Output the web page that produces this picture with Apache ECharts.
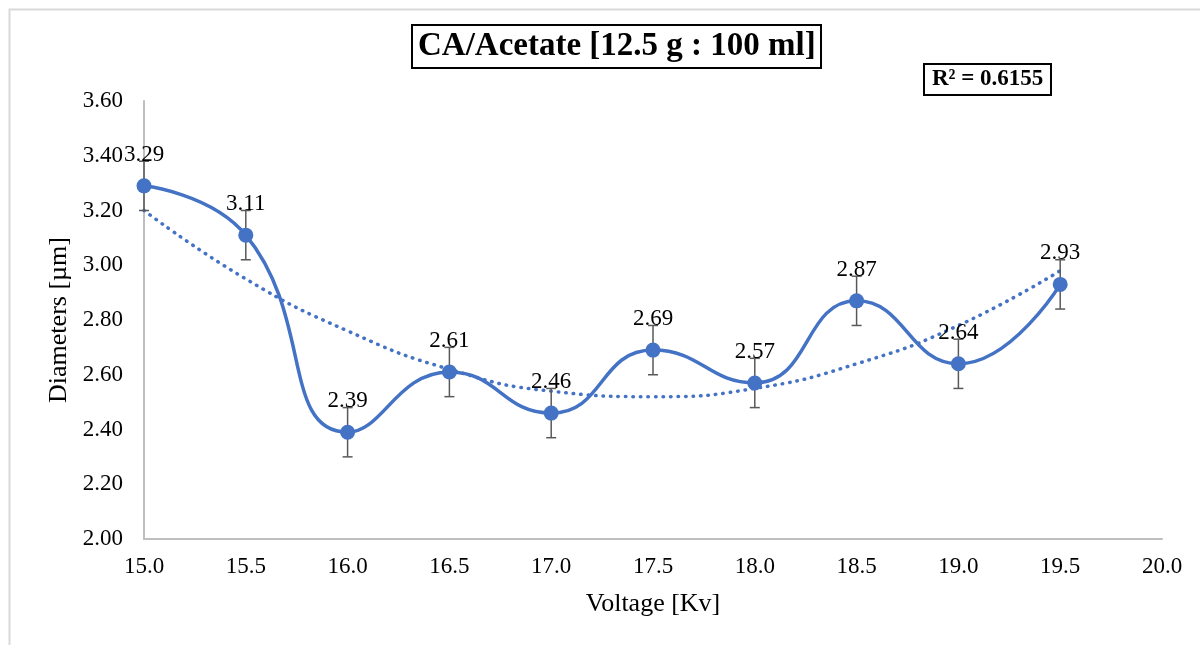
<!DOCTYPE html>
<html>
<head>
<meta charset="utf-8">
<script src="https://cdn.jsdelivr.net/npm/echarts@6/dist/echarts.min.js"></script>
<style>
html,body{margin:0;padding:0;background:#fff;}
#chart{width:1200px;height:645px;}
</style>
</head>
<body>
<div id="chart"></div>
<script>
// Data
var voltages = [15.0, 15.5, 16.0, 16.5, 17.0, 17.5, 18.0, 18.5, 19.0, 19.5];
var diameters = [3.29, 3.11, 2.39, 2.61, 2.46, 2.69, 2.57, 2.87, 2.64, 2.93];
var errors = [0.09, 0.09, 0.09, 0.09, 0.09, 0.09, 0.09, 0.09, 0.09, 0.09];
// Polynomial (order 2) trendline values
var trendValues = [3.20, 2.95, 2.76, 2.62, 2.54, 2.52, 2.55, 2.64, 2.78, 2.98];
var titleText = 'CA/Acetate [12.5 g : 100 ml]';
var r2Text = 'R² = 0.6155';
var xName = 'Voltage [Kv]';
var yName = 'Diameters [µm]';

var FONT = '"Liberation Serif", "Times New Roman", serif';
var BLUE = '#4472C4';

var mainData = voltages.map(function (v, i) { return [v, diameters[i]]; });
var trendData = voltages.map(function (v, i) { return [v, trendValues[i]]; });
var errData = voltages.map(function (v, i) { return [v, diameters[i] - errors[i], diameters[i] + errors[i]]; });

var chart = echarts.init(document.getElementById('chart'));
chart.setOption({
  backgroundColor: '#fff',
  animation: false,
  title: [{
    text: titleText,
    left: 412, top: 25,
    padding: [5, 6, 5, 6],
    borderColor: '#000', borderWidth: 2,
    textStyle: { fontFamily: FONT, fontSize: 33, fontWeight: 'bold', color: '#000' }
  }, {
    text: r2Text,
    left: 924, top: 64,
    padding: [4, 8, 4, 8],
    borderColor: '#000', borderWidth: 2,
    textStyle: { fontFamily: FONT, fontSize: 23, fontWeight: 'bold', color: '#000' }
  }],
  graphic: [{
    type: 'rect',
    shape: { x: 9.5, y: 9.5, width: 1250, height: 700 },
    style: { fill: null, stroke: '#d9d9d9', lineWidth: 2 },
    silent: true
  }],
  grid: { left: 144, right: 38, top: 101, bottom: 106 },
  xAxis: {
    type: 'value', min: 15, max: 20, interval: 0.5,
    name: xName, nameLocation: 'middle', nameGap: 52,
    nameTextStyle: { fontFamily: FONT, fontSize: 26, color: '#000' },
    axisLine: { show: true, onZero: false, lineStyle: { color: '#bfbfbf', width: 2 } },
    axisTick: { show: false },
    splitLine: { show: false },
    axisLabel: { fontFamily: FONT, fontSize: 23, color: '#000', margin: 16,
      formatter: function (v) { return v.toFixed(1); } }
  },
  yAxis: {
    type: 'value', min: 2, max: 3.6, interval: 0.2,
    name: yName, nameLocation: 'middle', nameGap: 72,
    nameTextStyle: { fontFamily: FONT, fontSize: 26, color: '#000' },
    axisLine: { show: true, lineStyle: { color: '#bfbfbf', width: 2 } },
    axisTick: { show: false },
    splitLine: { show: false },
    axisLabel: { fontFamily: FONT, fontSize: 23, color: '#000', margin: 21,
      formatter: function (v) { return v.toFixed(2); } }
  },
  series: [{
    type: 'line',
    data: trendData,
    smooth: true,
    symbol: 'none',
    lineStyle: { color: BLUE, width: 3.5, type: [0.5, 7], cap: 'round' },
    z: 2
  }, {
    type: 'custom',
    data: errData,
    renderItem: function (params, api) {
      var x = api.value(0);
      var lo = api.coord([x, api.value(1)]);
      var hi = api.coord([x, api.value(2)]);
      var hw = 5;
      var st = { stroke: '#595959', lineWidth: 1.5 };
      return {
        type: 'group',
        children: [
          { type: 'line', shape: { x1: lo[0], y1: lo[1], x2: hi[0], y2: hi[1] }, style: st },
          { type: 'line', shape: { x1: lo[0] - hw, y1: lo[1], x2: lo[0] + hw, y2: lo[1] }, style: st },
          { type: 'line', shape: { x1: hi[0] - hw, y1: hi[1], x2: hi[0] + hw, y2: hi[1] }, style: st }
        ]
      };
    },
    z: 3
  }, {
    type: 'line',
    data: mainData,
    smooth: 0.5,
    symbol: 'circle',
    symbolSize: 15,
    itemStyle: { color: BLUE },
    lineStyle: { color: BLUE, width: 3.5 },
    label: {
      show: true, position: 'top', distance: 12,
      fontFamily: FONT, fontSize: 23, color: '#000',
      formatter: function (p) { return p.value[1].toFixed(2); }
    },
    z: 4
  }]
});
</script>
</body>
</html>
